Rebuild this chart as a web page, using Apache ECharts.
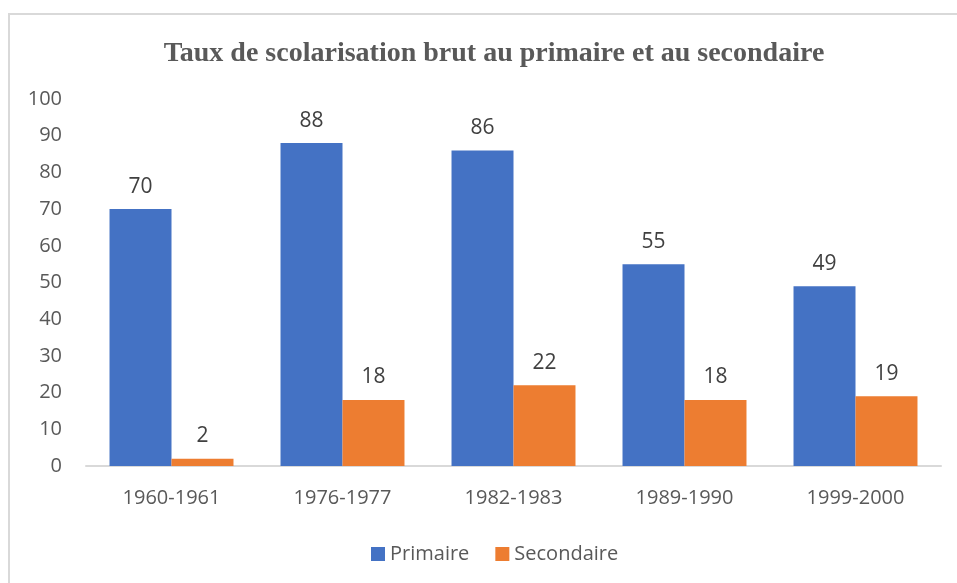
<!DOCTYPE html>
<html><head><meta charset="utf-8">
<script src="https://cdn.jsdelivr.net/npm/echarts@6/dist/echarts.min.js"></script>
<style>html,body{margin:0;padding:0;background:#fff}#frame{position:absolute;left:8px;top:13px;width:960px;height:600px;border:2px solid #d9d9d9;box-sizing:border-box}#c{position:absolute;left:0;top:0;width:957px;height:583px}</style>
</head><body><div id="frame"></div><div id="c"></div>
<script>
const categories = ['1960-1961','1976-1977','1982-1983','1989-1990','1999-2000'];
const primaire = [70, 88, 86, 55, 49];
const secondaire = [2, 18, 22, 18, 19];
const chart = echarts.init(document.getElementById('c'));
const font = "'Open Sans', 'Liberation Sans', sans-serif";
const lbl = {show:true, position:'top', distance:12, color:'#404040', fontSize:21, fontFamily:font};
chart.setOption({
  animation:false,
  title:{text:'Taux de scolarisation brut au primaire et au secondaire', left:489, textAlign:'center', top:35,
    textStyle:{fontFamily:"'Liberation Serif', serif", fontWeight:'bold', fontSize:28, color:'#595959'}},
  grid:{left:86, right:16, top:99, bottom:117},
  legend:{top:539, left:366, itemWidth:14, itemHeight:14, itemGap:26, icon:'rect',
    textStyle:{fontFamily:font, fontSize:20, color:'#595959'}, data:['Primaire','Secondaire']},
  xAxis:{type:'category', data:categories, axisTick:{show:false},
    axisLine:{lineStyle:{color:'#d9d9d9', width:2}},
    axisLabel:{fontFamily:font, fontSize:20, color:'#595959', margin:22}},
  yAxis:{type:'value', min:0, max:100, interval:10, splitLine:{show:false},
    axisLabel:{fontFamily:font, fontSize:20, color:'#595959', margin:24}},
  series:[
    {name:'Primaire', type:'bar', data:primaire, barGap:'0%', barCategoryGap:'27.5%', itemStyle:{color:'#4472C4'}, label:lbl},
    {name:'Secondaire', type:'bar', data:secondaire, itemStyle:{color:'#ED7D31'}, label:lbl}
  ]
});
</script></body></html>
